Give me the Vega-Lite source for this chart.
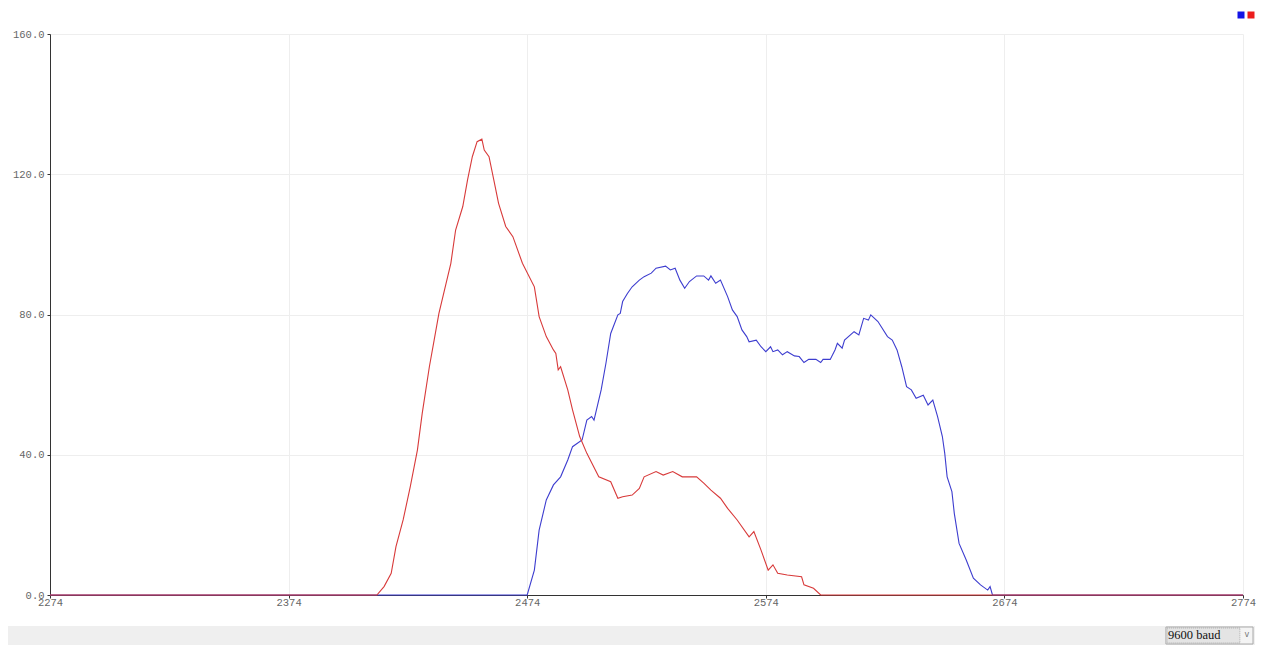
{
  "$schema": "https://vega.github.io/schema/vega-lite/v6.json",
  "width": 1193,
  "height": 561,
  "autosize": {"type": "none"},
  "padding": {"left": 50, "top": 34, "right": 20, "bottom": 51},
  "background": "#ffffff",
  "config": {
    "view": {"stroke": null},
    "axis": {
      "labelFont": "Liberation Mono",
      "labelFontSize": 10.5,
      "labelColor": "#666666",
      "domainColor": "#333333",
      "domainWidth": 1,
      "tickColor": "#333333",
      "tickSize": 3,
      "gridColor": "#eeeeee",
      "gridWidth": 1,
      "title": null
    }
  },
  "layer": [
    {
      "data": {"values": [
        {"t": 2274, "ch": "ch1", "v": 0}, {"t": 2474, "ch": "ch1", "v": 0},
        {"t": 2477, "ch": "ch1", "v": 7.1}, {"t": 2479, "ch": "ch1", "v": 18.5},
        {"t": 2482, "ch": "ch1", "v": 27.1}, {"t": 2485, "ch": "ch1", "v": 31.4},
        {"t": 2488, "ch": "ch1", "v": 33.7}, {"t": 2491, "ch": "ch1", "v": 38.5},
        {"t": 2493, "ch": "ch1", "v": 42.3}, {"t": 2497, "ch": "ch1", "v": 44.2},
        {"t": 2499, "ch": "ch1", "v": 49.9}, {"t": 2501, "ch": "ch1", "v": 50.9},
        {"t": 2502, "ch": "ch1", "v": 49.9}, {"t": 2505, "ch": "ch1", "v": 58.5},
        {"t": 2507, "ch": "ch1", "v": 66.1}, {"t": 2509, "ch": "ch1", "v": 74.6},
        {"t": 2512, "ch": "ch1", "v": 79.9}, {"t": 2513, "ch": "ch1", "v": 80.3},
        {"t": 2514, "ch": "ch1", "v": 83.7}, {"t": 2516, "ch": "ch1", "v": 86.0},
        {"t": 2518, "ch": "ch1", "v": 87.9}, {"t": 2521, "ch": "ch1", "v": 89.8},
        {"t": 2523, "ch": "ch1", "v": 90.8}, {"t": 2526, "ch": "ch1", "v": 91.8},
        {"t": 2528, "ch": "ch1", "v": 93.2}, {"t": 2532, "ch": "ch1", "v": 93.8},
        {"t": 2534, "ch": "ch1", "v": 92.7}, {"t": 2536, "ch": "ch1", "v": 93.2},
        {"t": 2538, "ch": "ch1", "v": 89.8}, {"t": 2540, "ch": "ch1", "v": 87.5},
        {"t": 2542, "ch": "ch1", "v": 89.4}, {"t": 2545, "ch": "ch1", "v": 91.0},
        {"t": 2548, "ch": "ch1", "v": 91.0}, {"t": 2550, "ch": "ch1", "v": 89.8},
        {"t": 2551, "ch": "ch1", "v": 91.0}, {"t": 2553, "ch": "ch1", "v": 88.9},
        {"t": 2555, "ch": "ch1", "v": 89.8}, {"t": 2558, "ch": "ch1", "v": 85.1},
        {"t": 2560, "ch": "ch1", "v": 81.3}, {"t": 2562, "ch": "ch1", "v": 79.4},
        {"t": 2564, "ch": "ch1", "v": 75.6}, {"t": 2566, "ch": "ch1", "v": 73.7},
        {"t": 2567, "ch": "ch1", "v": 72.2}, {"t": 2570, "ch": "ch1", "v": 72.7},
        {"t": 2572, "ch": "ch1", "v": 70.8}, {"t": 2574, "ch": "ch1", "v": 69.4},
        {"t": 2576, "ch": "ch1", "v": 70.8}, {"t": 2577, "ch": "ch1", "v": 69.4},
        {"t": 2579, "ch": "ch1", "v": 69.9}, {"t": 2581, "ch": "ch1", "v": 68.5},
        {"t": 2583, "ch": "ch1", "v": 69.4}, {"t": 2586, "ch": "ch1", "v": 68.2},
        {"t": 2588, "ch": "ch1", "v": 68.0}, {"t": 2590, "ch": "ch1", "v": 66.3},
        {"t": 2592, "ch": "ch1", "v": 67.2}, {"t": 2595, "ch": "ch1", "v": 67.2},
        {"t": 2597, "ch": "ch1", "v": 66.3}, {"t": 2598, "ch": "ch1", "v": 67.2},
        {"t": 2601, "ch": "ch1", "v": 67.2}, {"t": 2603, "ch": "ch1", "v": 69.9},
        {"t": 2604, "ch": "ch1", "v": 71.8}, {"t": 2606, "ch": "ch1", "v": 70.4},
        {"t": 2607, "ch": "ch1", "v": 72.7}, {"t": 2611, "ch": "ch1", "v": 75.1},
        {"t": 2613, "ch": "ch1", "v": 74.2}, {"t": 2615, "ch": "ch1", "v": 78.9},
        {"t": 2617, "ch": "ch1", "v": 78.4}, {"t": 2618, "ch": "ch1", "v": 79.9},
        {"t": 2621, "ch": "ch1", "v": 78.0}, {"t": 2625, "ch": "ch1", "v": 73.7},
        {"t": 2627, "ch": "ch1", "v": 72.7}, {"t": 2629, "ch": "ch1", "v": 69.9},
        {"t": 2631, "ch": "ch1", "v": 65.1}, {"t": 2633, "ch": "ch1", "v": 59.4},
        {"t": 2635, "ch": "ch1", "v": 58.5}, {"t": 2637, "ch": "ch1", "v": 56.1},
        {"t": 2640, "ch": "ch1", "v": 57.0}, {"t": 2642, "ch": "ch1", "v": 54.2},
        {"t": 2644, "ch": "ch1", "v": 55.6}, {"t": 2646, "ch": "ch1", "v": 50.9},
        {"t": 2648, "ch": "ch1", "v": 45.2}, {"t": 2649, "ch": "ch1", "v": 40.4},
        {"t": 2650, "ch": "ch1", "v": 33.7}, {"t": 2652, "ch": "ch1", "v": 29.5},
        {"t": 2653, "ch": "ch1", "v": 23.3}, {"t": 2655, "ch": "ch1", "v": 14.7},
        {"t": 2658, "ch": "ch1", "v": 10.0}, {"t": 2661, "ch": "ch1", "v": 4.8},
        {"t": 2664, "ch": "ch1", "v": 2.9}, {"t": 2667, "ch": "ch1", "v": 1.4},
        {"t": 2668, "ch": "ch1", "v": 2.4}, {"t": 2669, "ch": "ch1", "v": 0},
        {"t": 2774, "ch": "ch1", "v": 0},

        {"t": 2274, "ch": "ch2", "v": 0}, {"t": 2411, "ch": "ch2", "v": 0},
        {"t": 2414, "ch": "ch2", "v": 2.4}, {"t": 2417, "ch": "ch2", "v": 6.2},
        {"t": 2419, "ch": "ch2", "v": 13.8}, {"t": 2422, "ch": "ch2", "v": 21.4},
        {"t": 2425, "ch": "ch2", "v": 30.9}, {"t": 2428, "ch": "ch2", "v": 41.4},
        {"t": 2430, "ch": "ch2", "v": 51.8}, {"t": 2433, "ch": "ch2", "v": 65.1},
        {"t": 2435, "ch": "ch2", "v": 72.7}, {"t": 2437, "ch": "ch2", "v": 80.3},
        {"t": 2440, "ch": "ch2", "v": 88.9}, {"t": 2442, "ch": "ch2", "v": 94.6},
        {"t": 2444, "ch": "ch2", "v": 104.1}, {"t": 2447, "ch": "ch2", "v": 110.8},
        {"t": 2449, "ch": "ch2", "v": 118.4}, {"t": 2451, "ch": "ch2", "v": 125.0},
        {"t": 2453, "ch": "ch2", "v": 129.3}, {"t": 2455, "ch": "ch2", "v": 130.0},
        {"t": 2456, "ch": "ch2", "v": 126.9}, {"t": 2458, "ch": "ch2", "v": 125.0},
        {"t": 2460, "ch": "ch2", "v": 118.4}, {"t": 2462, "ch": "ch2", "v": 111.7},
        {"t": 2465, "ch": "ch2", "v": 105.1}, {"t": 2468, "ch": "ch2", "v": 102.2},
        {"t": 2472, "ch": "ch2", "v": 94.6}, {"t": 2477, "ch": "ch2", "v": 87.9},
        {"t": 2479, "ch": "ch2", "v": 79.4}, {"t": 2482, "ch": "ch2", "v": 73.7},
        {"t": 2485, "ch": "ch2", "v": 69.9}, {"t": 2486, "ch": "ch2", "v": 68.9},
        {"t": 2487, "ch": "ch2", "v": 64.2}, {"t": 2488, "ch": "ch2", "v": 65.1},
        {"t": 2491, "ch": "ch2", "v": 58.5}, {"t": 2493, "ch": "ch2", "v": 52.8},
        {"t": 2496, "ch": "ch2", "v": 45.2}, {"t": 2499, "ch": "ch2", "v": 40.4},
        {"t": 2504, "ch": "ch2", "v": 33.7}, {"t": 2509, "ch": "ch2", "v": 32.3},
        {"t": 2512, "ch": "ch2", "v": 27.6}, {"t": 2514, "ch": "ch2", "v": 28.0},
        {"t": 2518, "ch": "ch2", "v": 28.5}, {"t": 2521, "ch": "ch2", "v": 30.4},
        {"t": 2523, "ch": "ch2", "v": 33.7}, {"t": 2528, "ch": "ch2", "v": 35.2},
        {"t": 2531, "ch": "ch2", "v": 34.2}, {"t": 2535, "ch": "ch2", "v": 35.2},
        {"t": 2539, "ch": "ch2", "v": 33.7}, {"t": 2545, "ch": "ch2", "v": 33.7},
        {"t": 2548, "ch": "ch2", "v": 31.9}, {"t": 2551, "ch": "ch2", "v": 29.9},
        {"t": 2555, "ch": "ch2", "v": 27.6}, {"t": 2558, "ch": "ch2", "v": 24.7},
        {"t": 2562, "ch": "ch2", "v": 21.4}, {"t": 2567, "ch": "ch2", "v": 16.6},
        {"t": 2569, "ch": "ch2", "v": 18.1}, {"t": 2572, "ch": "ch2", "v": 12.8},
        {"t": 2575, "ch": "ch2", "v": 7.1}, {"t": 2577, "ch": "ch2", "v": 8.6},
        {"t": 2579, "ch": "ch2", "v": 6.2}, {"t": 2583, "ch": "ch2", "v": 5.7},
        {"t": 2589, "ch": "ch2", "v": 5.2}, {"t": 2590, "ch": "ch2", "v": 2.9},
        {"t": 2594, "ch": "ch2", "v": 1.9}, {"t": 2597, "ch": "ch2", "v": 0},
        {"t": 2774, "ch": "ch2", "v": 0}
      ]},
      "mark": {"type": "line", "strokeWidth": 1.1, "interpolate": "linear"},
      "encoding": {
        "x": {
          "field": "t", "type": "quantitative",
          "scale": {"domain": [2274, 2774], "nice": false, "zero": false},
          "axis": {"values": [2274, 2374, 2474, 2574, 2674, 2774], "format": "d", "labelPadding": -1, "labelFlush": false}
        },
        "y": {
          "field": "v", "type": "quantitative",
          "scale": {"domain": [0, 160], "nice": false},
          "axis": {"values": [0, 40, 80, 120, 160], "format": ".1f", "labelPadding": 3}
        },
        "color": {
          "field": "ch", "type": "nominal",
          "scale": {"domain": ["ch1", "ch2"], "range": ["#3d3dcf", "#d83a3a"]},
          "legend": {
            "orient": "none", "legendX": 1186, "legendY": -24,
            "direction": "horizontal", "title": null,
            "labelExpr": "''", "labelOffset": 0, "columnPadding": 0, "padding": 0,
            "symbolType": "square", "symbolSize": 49, "symbolStrokeWidth": 0, "symbolOpacity": 1,
            "encode": {"symbols": {"update": {"fill": {"signal": "datum.value === 'ch1' ? '#1414e6' : '#ec1c1c'"}}}}
          }
        },
        "order": {"field": "t", "type": "quantitative"}
      }
    },
    {
      "data": {"values": [{}]},
      "mark": {"type": "rect", "fill": "#efefef", "clip": false},
      "encoding": {
        "x": {"datum": 2256.4, "type": "quantitative"},
        "x2": {"datum": 2779.0},
        "y": {"datum": -8.84, "type": "quantitative"},
        "y2": {"datum": -14.26}
      }
    },
    {
      "data": {"values": [{}]},
      "mark": {"type": "rect", "fill": "#f4f4f4", "stroke": "#a9a9a9", "strokeWidth": 1, "clip": false},
      "encoding": {
        "x": {"datum": 2741.7, "type": "quantitative"},
        "x2": {"datum": 2778.2},
        "y": {"datum": -9.13, "type": "quantitative"},
        "y2": {"datum": -13.98}
      }
    },
    {
      "data": {"values": [{}]},
      "mark": {"type": "rect", "fill": "#e4e4e4", "stroke": "#8a8a8a", "strokeWidth": 0.6, "strokeDash": [1, 1], "clip": false},
      "encoding": {
        "x": {"datum": 2742.2, "type": "quantitative"},
        "x2": {"datum": 2772.7},
        "y": {"datum": -9.41, "type": "quantitative"},
        "y2": {"datum": -13.69}
      }
    },
    {
      "data": {"values": [{"label": "9600 baud"}]},
      "mark": {"type": "text", "align": "left", "baseline": "middle", "font": "Liberation Serif", "fontSize": 12.5, "color": "#111111", "clip": false},
      "encoding": {
        "x": {"datum": 2742.6, "type": "quantitative"},
        "y": {"datum": -11.55, "type": "quantitative"},
        "text": {"field": "label"}
      }
    },
    {
      "data": {"values": [{"label": "v"}]},
      "mark": {"type": "text", "align": "center", "baseline": "middle", "font": "DejaVu Sans", "fontSize": 8, "color": "#777777", "clip": false},
      "encoding": {
        "x": {"datum": 2775.6, "type": "quantitative"},
        "y": {"datum": -11.4, "type": "quantitative"},
        "text": {"field": "label"}
      }
    }
  ]
}
